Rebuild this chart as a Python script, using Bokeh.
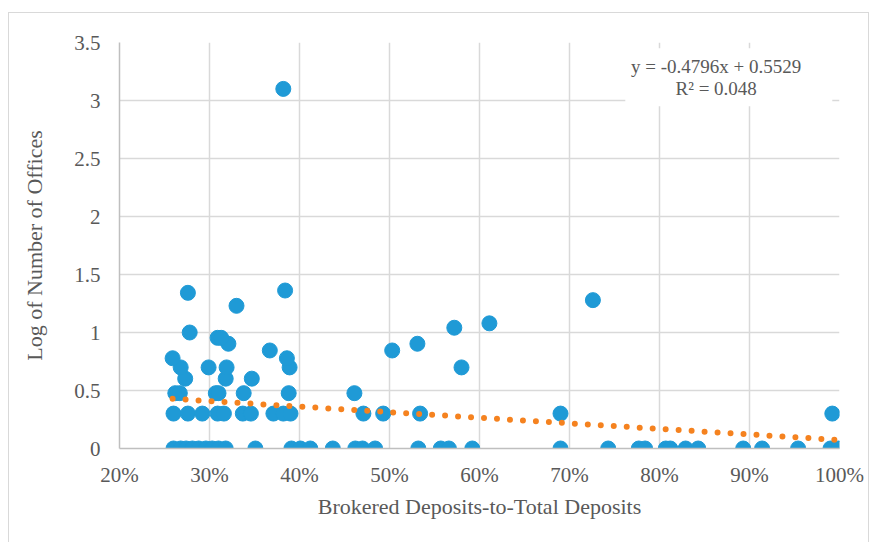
from bokeh.plotting import figure
from bokeh.models import FixedTicker, NumeralTickFormatter, BoxAnnotation, Label, Range1d
from bokeh.embed import file_html
from bokeh.resources import INLINE

# Brokered deposits-to-total deposits (fraction) and log10 of number of offices
ratio = [
    # log = 0
    0.260, 0.268, 0.274, 0.281, 0.288, 0.296, 0.303, 0.310, 0.318, 0.351,
    0.391, 0.401, 0.412, 0.437, 0.462, 0.470, 0.484, 0.532, 0.557, 0.566,
    0.592, 0.690, 0.743, 0.777, 0.784, 0.807, 0.812, 0.829, 0.843, 0.893,
    0.914, 0.954, 0.990, 0.999,
    # log = 0.301
    0.260, 0.276, 0.292, 0.309, 0.316, 0.337, 0.346, 0.371, 0.382, 0.390,
    0.471, 0.493, 0.534, 0.690, 0.992,
    # log = 0.477
    0.262, 0.267, 0.307, 0.310, 0.338, 0.388, 0.461,
    # log = 0.602
    0.273, 0.318, 0.347,
    # log = 0.699
    0.268, 0.299, 0.319, 0.389, 0.580,
    # log = 0.778
    0.259, 0.386,
    # log = 0.845
    0.367, 0.503,
    # log = 0.903
    0.321, 0.531,
    # log = 0.954
    0.309, 0.313,
    # higher
    0.278, 0.572, 0.611, 0.330, 0.726, 0.276, 0.384, 0.382,
]
log_offices = (
    [0.0] * 34
    + [0.301] * 15
    + [0.477] * 7
    + [0.602] * 3
    + [0.699] * 5
    + [0.778] * 2
    + [0.845] * 2
    + [0.903] * 2
    + [0.954] * 2
    + [1.0, 1.041, 1.079, 1.23, 1.279, 1.342, 1.362, 3.1]
)

# Linear trend reported on the chart
slope = -0.4796
intercept = 0.5529
r_squared = 0.048

x_ticks = [0.2, 0.3, 0.4, 0.5, 0.6, 0.7, 0.8, 0.9, 1.0]
y_ticks = [0, 0.5, 1, 1.5, 2, 2.5, 3, 3.5]
y_tick_labels = ["0", "0.5", "1", "1.5", "2", "2.5", "3", "3.5"]

FONT = "Liberation Serif"
TXT = "#595959"

p = figure(width=861, height=534, output_backend="svg", toolbar_location=None,
           x_range=Range1d(0.2, 1.0), y_range=Range1d(0, 3.5),
           min_border_left=110, min_border_right=31, min_border_top=29,
           min_border_bottom=99)
p.outline_line_color = None
p.background_fill_color = "white"
p.border_fill_color = "white"
p.styles = {"border": "1px solid #d9d9d9", "margin-left": "8px", "margin-top": "12px"}

for g in (p.xgrid, p.ygrid):
    g.grid_line_color = "#d9d9d9"
    g.grid_line_width = 1.5
p.xgrid.ticker = FixedTicker(ticks=x_ticks)
p.ygrid.ticker = FixedTicker(ticks=y_ticks)

xa = p.xaxis[0]
xa.ticker = FixedTicker(ticks=x_ticks)
xa.formatter = NumeralTickFormatter(format="0%")
ya = p.yaxis[0]
ya.ticker = FixedTicker(ticks=y_ticks)
ya.major_label_overrides = {t: l for t, l in zip(y_ticks, y_tick_labels)}

for ax in (xa, ya):
    ax.major_tick_line_color = None
    ax.minor_tick_line_color = None
    ax.major_label_text_font = FONT
    ax.major_label_text_font_size = "21px"
    ax.major_label_text_color = TXT
    ax.axis_label_text_font = FONT
    ax.axis_label_text_font_size = "22px"
    ax.axis_label_text_font_style = "normal"
    ax.axis_label_text_color = TXT
    ax.axis_line_color = "#bfbfbf"
    ax.axis_line_width = 1.5

xa.axis_label = "Brokered Deposits-to-Total Deposits"
ya.axis_label = "Log of Number of Offices"
xa.major_label_standoff = 8
xa.axis_label_standoff = 4
ya.major_label_standoff = 13
ya.axis_label_standoff = 24

p.scatter(ratio, log_offices, size=15, color="#1f9ad6", line_color="#1f9ad6")

x0, x1 = min(ratio), max(ratio)
p.line([x0, x1], [slope * x0 + intercept, slope * x1 + intercept],
       line_color="#f5821f", line_width=6, line_cap="round", line_dash="0 13")

p.add_layout(BoxAnnotation(left=0.762, right=0.992, bottom=2.95, top=3.45,
                           fill_color="white", fill_alpha=1.0, line_color=None))
p.add_layout(Label(x=0.863, y=3.29, text=f"y = {slope}x + {intercept}",
                   text_align="center", text_baseline="middle",
                   text_font=FONT, text_font_size="19px", text_color=TXT))
p.add_layout(Label(x=0.863, y=3.10, text=f"R² = {r_squared}",
                   text_align="center", text_baseline="middle",
                   text_font=FONT, text_font_size="19px", text_color=TXT))

open("out.html", "w").write(file_html(p, INLINE))
